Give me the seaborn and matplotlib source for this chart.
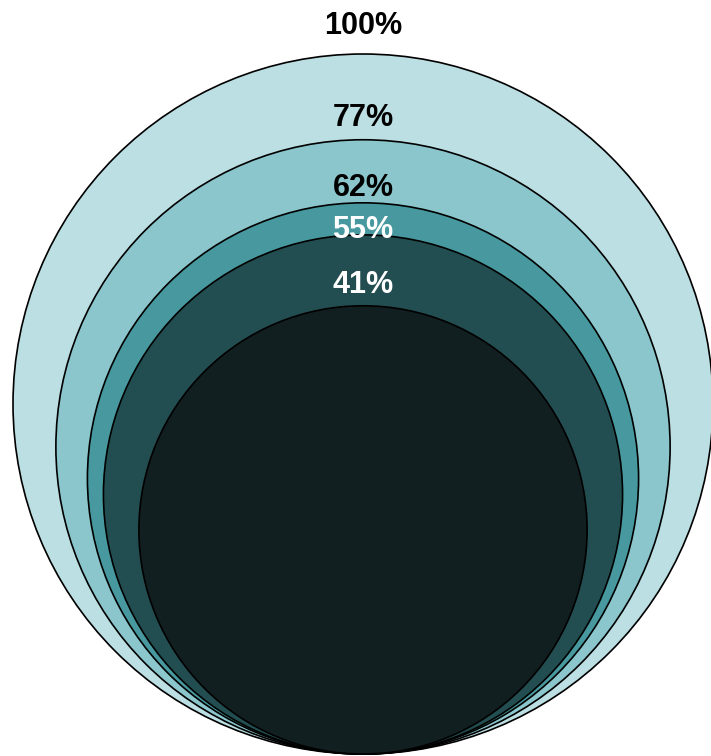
import matplotlib
matplotlib.use("Agg")
import matplotlib.pyplot as plt
from matplotlib.patches import Circle
import numpy as np
import seaborn as sns

# Data
labels = ["100%", "77%", "62%", "55%", "41%"]
values = [100, 77, 62, 55, 41]
colors = ["#bcdfe3", "#8bc6cd", "#47999f", "#234e51", "#121f21"]
label_colors = ["black", "black", "black", "white", "white"]
label_offsets_px = [28.5, 22, 15, 5, 21]

sns.set_theme(style="white")
plt.rcParams['font.family'] = ['Liberation Sans', 'DejaVu Sans']

R_PX = 350.0
CX = 363.0
BOTTOM = 754.0
fig = plt.figure(figsize=(7.11, 7.56), dpi=100)
ax = fig.add_axes([0, 0, 1, 1])
ax.set_xlim(-CX / R_PX, (711 - CX) / R_PX)
ax.set_ylim((BOTTOM - 756) / R_PX, BOTTOM / R_PX)
ax.set_aspect("equal")
ax.axis("off")

vmax = max(values)
for i, (lab, v, c, lc, off) in enumerate(zip(labels, values, colors, label_colors, label_offsets_px)):
    r = np.sqrt(v / vmax)
    ax.add_patch(Circle((0, r), r, facecolor=c, edgecolor="black", linewidth=1.2, zorder=2 + i))
    ax.text(0, 2 * r + off / R_PX, lab, ha="center", va="center", fontsize=22,
            fontweight="bold", color=lc, zorder=20)

fig.savefig("out.png", dpi=100)
